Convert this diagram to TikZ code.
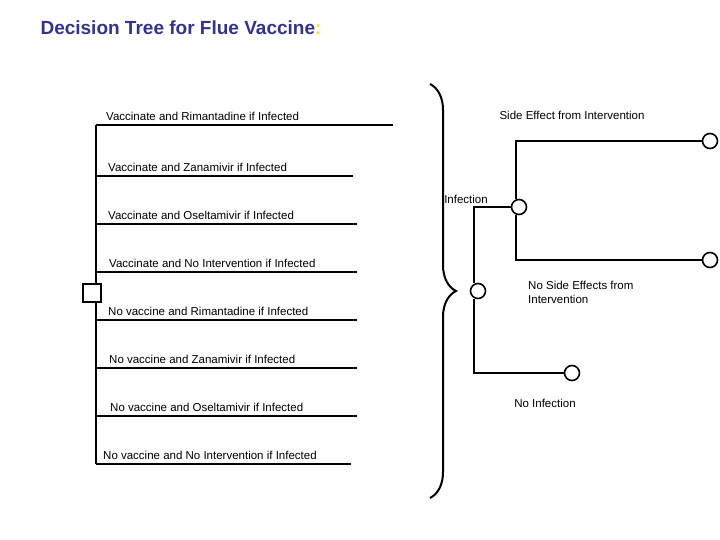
\documentclass[tikz,border=0pt]{standalone}
\usepackage{fontspec}
\setmainfont{Liberation Sans}
\usetikzlibrary{positioning,decorations.pathreplacing}
\definecolor{titleblue}{RGB}{51,51,140}
\tikzset{
  chance/.style={circle, draw, line width=1.6pt, fill=white, minimum size=15pt, inner sep=0pt},
  decision/.style={rectangle, draw, line width=1.6pt, fill=white, minimum size=18pt, inner sep=0pt},
  branch/.style={line width=2pt},
  lbl/.style={font=\fontsize{11.5}{13}\selectfont, inner sep=1pt, anchor=south west},
  rlbl/.style={font=\fontsize{11.5}{14}\selectfont, inner sep=1pt, align=left},
}
\begin{document}
\begin{tikzpicture}[x=1pt, y=-1pt]
  \useasboundingbox (0,0) rectangle (720,540);
  \node[anchor=west, font=\bfseries\fontsize{19}{22}\selectfont, text=titleblue] (title) at (37,28) {Decision Tree for Flue Vaccine\textcolor{yellow!90!orange}{:}};

  % strategy branches
  \coordinate (top) at (96,125);
  \coordinate (bot) at (96,464);
  \draw[branch] (top) -- (bot);
  \foreach \y/\xe/\xl/\txt [count=\i] in {
      125/393/105/Vaccinate and Rimantadine if Infected,
      176/353/107/Vaccinate and Zanamivir if Infected,
      224/357/107/Vaccinate and Oseltamivir if Infected,
      272/357/108/Vaccinate and No Intervention if Infected,
      320/357/107/No vaccine and Rimantadine if Infected,
      368/357/108/No vaccine and Zanamivir if Infected,
      416/357/109/No vaccine and Oseltamivir if Infected,
      464/351/102/No vaccine and No Intervention if Infected} {
    \coordinate (s\i) at (96,\y);
    \coordinate (e\i) at (\xe,\y);
    \draw[branch] (s\i) -- (e\i);
    \node[lbl] (l\i) at (\xl,\y-3) {\txt};
  }
  \node[decision] (dec) at (92,293) {};

  % brace
  \coordinate (btop) at (430,84);
  \coordinate (bbot) at (430,498);
  \draw[line width=2pt, decorate, decoration={brace, amplitude=26pt, aspect=0.5}] (btop) -- (bbot);

  % chance nodes
  \node[chance] (c0) at (478,291) {};
  \node[chance] (c1) at (519,207) {};
  \node[chance] (c2) at (572,373) {};
  \node[chance] (c3) at (710,141) {};
  \node[chance] (c4) at (710,260) {};

  \draw[branch] (c0.north) ++(-4,0) |- (c1.west);
  \draw[branch] (c0.south) ++(-4,0) |- (c2.west);
  \draw[branch] (c1.north) ++(-3,0) |- (c3.west);
  \draw[branch] (c1.south) ++(-3,0) |- (c4.west);

  \node[rlbl] (se) at (572,115) {Side Effect from Intervention};
  \node[rlbl] (inf) at (466,199) {Infection};
  \node[rlbl, anchor=north west] (nse) at (527,280) {No Side Effects from\\Intervention};
  \node[rlbl] (ninf) at (545,403) {No Infection};
\end{tikzpicture}
\end{document}
